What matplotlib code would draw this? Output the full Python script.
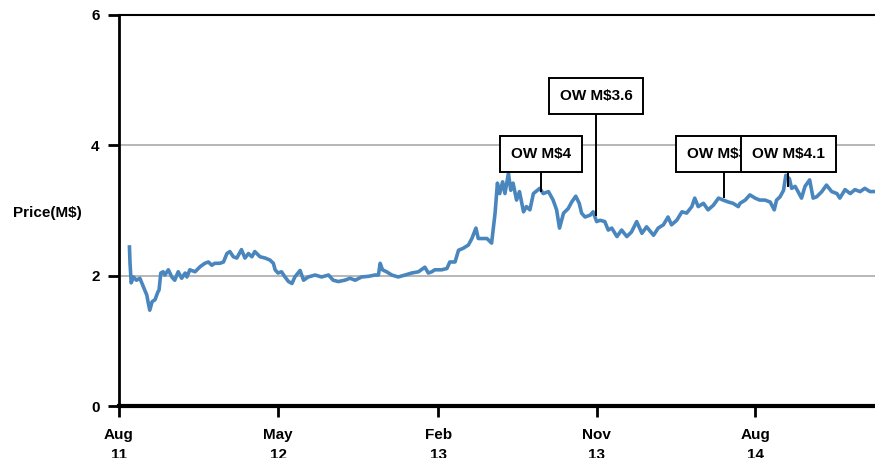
import numpy as np
import matplotlib
matplotlib.use("Agg")
import matplotlib.pyplot as plt
import datetime as dt

plt.rcParams['font.family'] = ['Liberation Sans', 'DejaVu Sans']
plt.rcParams['font.weight'] = 'bold'

# ---- data (days since 2011-08-01, price in M$) ----
days = [18, 19, 21, 25, 30, 36, 42, 48, 50, 53, 57, 62, 67, 69, 72, 76, 79, 85, 91, 96,
        102, 108, 114, 117, 122, 131, 140, 148, 154, 160, 165, 174, 180, 186, 191, 197, 203,
        211, 217, 223, 229, 234, 243, 252, 260, 266, 269, 274, 280, 286, 292, 298, 303, 312,
        318, 326, 338, 349, 361, 369, 378, 389, 398, 407, 418, 430, 441, 447, 450, 454, 461,
        470, 481, 493, 504, 516, 527, 533, 539, 544, 556, 565, 570, 579, 585, 593, 602, 608,
        615, 619, 625, 634, 642, 648, 652, 656, 661, 665, 671, 675, 679, 685, 690, 697, 702,
        708, 714, 725, 731, 740, 748, 754, 759, 766, 774, 780, 787, 793, 797, 803, 812, 817,
        823, 829, 837, 843, 849, 858, 866, 875, 883, 892, 901, 909, 921, 929, 938, 946, 952,
        961, 970, 978, 987, 992, 998, 1007, 1015, 1024, 1033, 1041, 1050, 1058, 1067, 1070,
        1079, 1087, 1096, 1104, 1113, 1122, 1129, 1133, 1139, 1145, 1149, 1155, 1159, 1165,
        1170, 1176, 1182, 1190, 1196, 1202, 1211, 1219, 1228, 1237, 1242, 1251, 1260, 1268,
        1277, 1285, 1294, 1303, 1311]
price = [2.44, 2.19, 1.89, 1.98, 1.93, 1.96, 1.83, 1.70, 1.60, 1.47, 1.60, 1.63, 1.75, 1.78,
         2.04, 2.06, 2.01, 2.09, 1.98, 1.93, 2.06, 1.96, 2.04, 1.98, 2.09, 2.06, 2.14, 2.19,
         2.21, 2.16, 2.19, 2.19, 2.21, 2.34, 2.37, 2.29, 2.27, 2.40, 2.27, 2.34, 2.29, 2.37,
         2.29, 2.27, 2.24, 2.19, 2.09, 2.04, 2.06, 1.98, 1.91, 1.88, 1.98, 2.08, 1.93, 1.98,
         2.01, 1.98, 2.01, 1.93, 1.91, 1.93, 1.96, 1.93, 1.98, 1.99, 2.01, 2.01, 2.19, 2.09,
         2.06, 2.01, 1.98, 2.01, 2.04, 2.06, 2.13, 2.04, 2.06, 2.09, 2.09, 2.11, 2.21, 2.21,
         2.39, 2.42, 2.47, 2.57, 2.73, 2.57, 2.57, 2.57, 2.50, 2.96, 3.42, 3.26, 3.44, 3.26,
         3.57, 3.31, 3.42, 3.16, 3.29, 2.98, 3.06, 3.01, 3.26, 3.34, 3.26, 3.29, 3.16, 3.01,
         2.73, 2.96, 3.03, 3.13, 3.22, 3.11, 2.96, 2.90, 2.93, 2.98, 2.83, 2.85, 2.83, 2.70,
         2.73, 2.60, 2.70, 2.60, 2.67, 2.83, 2.65, 2.75, 2.62, 2.73, 2.78, 2.90, 2.78, 2.85,
         2.98, 2.96, 3.06, 3.19, 3.06, 3.11, 3.01, 3.08, 3.19, 3.16, 3.13, 3.11, 3.06, 3.11,
         3.16, 3.24, 3.19, 3.16, 3.16, 3.13, 3.01, 3.16, 3.21, 3.31, 3.54, 3.49, 3.34, 3.37,
         3.29, 3.19, 3.37, 3.47, 3.19, 3.21, 3.29, 3.39, 3.29, 3.26, 3.19, 3.32, 3.26, 3.32,
         3.29, 3.34, 3.29, 3.29, 3.30]

# annotations: label, day offset, price at point, box centre price
ann_labels = ["OW M$4", "OW M$3.6", "OW M$3.8", "OW M$4.1"]
ann_days = [727, 822, 1042, 1153]
ann_price = [3.30, 2.93, 3.20, 3.37]
ann_box_y = [3.87, 4.76, 3.87, 3.87]

yticks = [0, 2, 4, 6]
xtick_dates = ["2011-08-01", "2012-05-01", "2013-02-01", "2013-11-01", "2014-08-01"]
xtick_labels = ["Aug\n11", "May\n12", "Feb\n13", "Nov\n13", "Aug\n14"]

base = dt.datetime(2011, 8, 1)
dates = [base + dt.timedelta(days=d) for d in days]

fig = plt.figure(figsize=(8.75, 4.58), dpi=100)
ax = fig.add_axes([119/875, 1-406/458, 1-119/875, (406-15)/458])

for g in [2, 4]:
    ax.axhline(g, color='#aaaaaa', lw=1.2, zorder=1)

ax.plot(dates, price, color='#4a86be', lw=2.6, zorder=3, solid_joinstyle='round')

for lab, d, p, by in zip(ann_labels, ann_days, ann_price, ann_box_y):
    x = base + dt.timedelta(days=d)
    ax.plot([x, x], [p, by], color='black', lw=1.4, zorder=4)
    ax.text(x, by, lab, ha='center', va='center', fontsize=11, fontweight='bold', zorder=6,
            bbox=dict(boxstyle='square,pad=0.72', fc='white', ec='black', lw=1.4))

ax.set_ylim(0, 6)
ax.set_xlim(base, base + dt.timedelta(days=1302.6))
ax.set_yticks(yticks)
ax.set_yticklabels([str(t) for t in yticks])
ax.set_xticks([dt.datetime.strptime(s, "%Y-%m-%d") for s in xtick_dates])
ax.set_xticklabels(xtick_labels, linespacing=1.55)

ax.spines['right'].set_visible(False)
ax.spines['top'].set_linewidth(1.5)
ax.spines['left'].set_linewidth(2)
ax.spines['bottom'].set_linewidth(3)
ax.tick_params(axis='both', length=8, width=2, labelsize=11, pad=6)
ax.tick_params(axis='x', pad=8)
for t in ax.get_xticklabels() + ax.get_yticklabels():
    t.set_fontweight('bold')

ax.set_ylabel("Price(M$)", rotation=0, fontsize=11, fontweight='bold', ha='center', va='center')
ax.yaxis.set_label_coords(-72/756, (406-213)/391)

fig.savefig("out.png", dpi=100)
